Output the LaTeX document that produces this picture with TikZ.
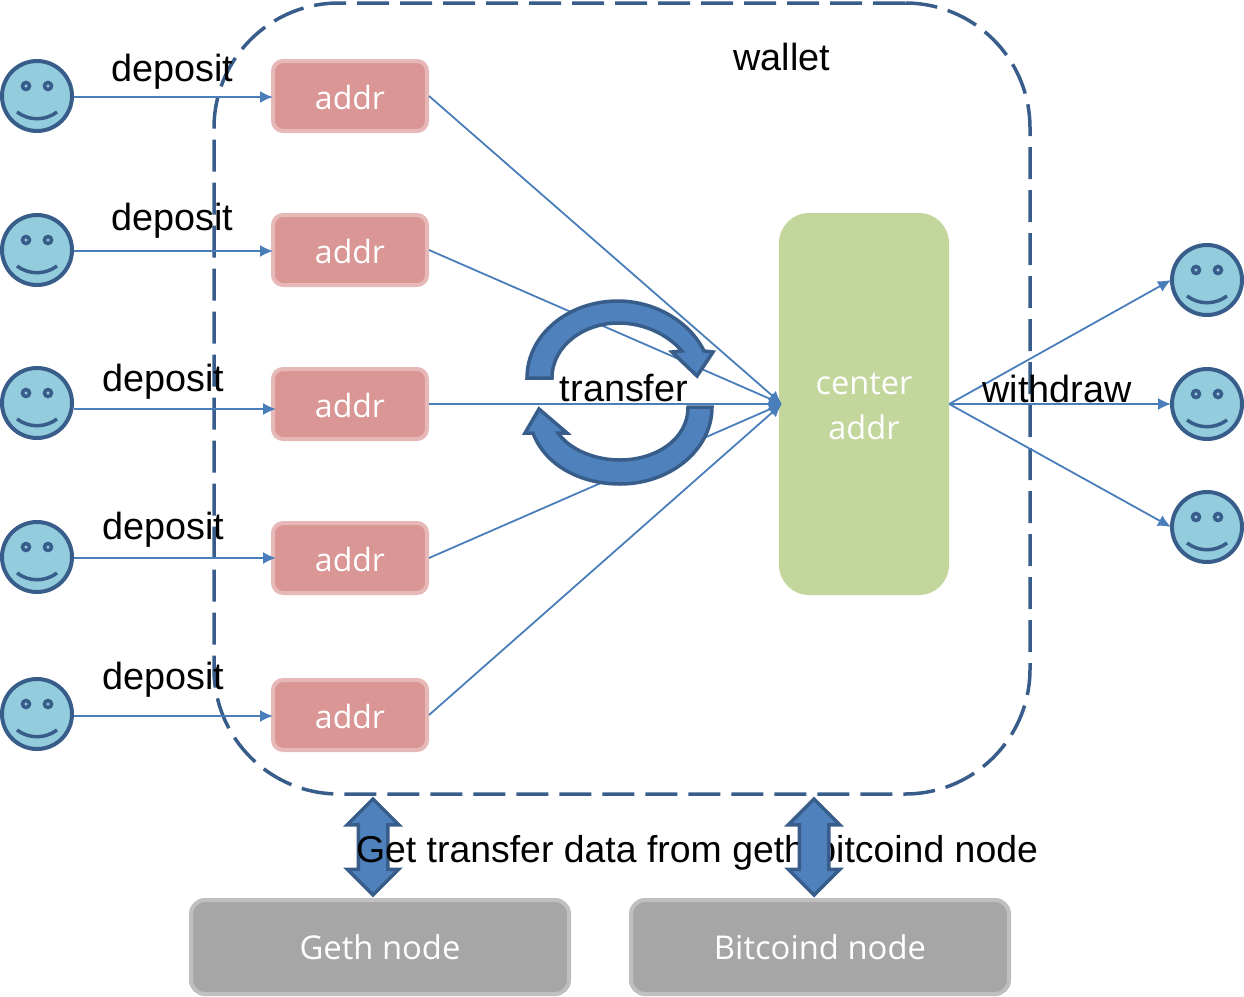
\documentclass[tikz,border=0pt]{standalone}
\usepackage{fontspec}
\setmainfont{Liberation Sans}
\newfontfamily\boxfont{Open Sans}
\usetikzlibrary{positioning,shapes,arrows.meta}

\definecolor{edgeblue}{HTML}{385D8A}
\definecolor{lineblue}{HTML}{4A7EBB}
\definecolor{arrowblue}{HTML}{4F81BD}
\definecolor{facefill}{HTML}{93CDDD}
\definecolor{addrfill}{HTML}{D99694}
\definecolor{addredge}{HTML}{E6B9B8}
\definecolor{centerfill}{HTML}{C3D69B}
\definecolor{nodefill}{HTML}{A6A6A6}
\definecolor{nodeedge}{HTML}{BFBFBF}

\tikzset{
	face/.style={circle,draw=edgeblue,fill=facefill,line width=4pt,minimum size=70pt,inner sep=0pt},
	faceline/.style={draw=edgeblue,line width=3.5pt},
	addr/.style={rectangle,rounded corners=10pt,draw=addredge,fill=addrfill,line width=4pt,minimum width=154pt,minimum height=70pt,text=white,text height=26.5pt,text depth=0pt,font=\boxfont\fontsize{32}{40}\selectfont},
	geth/.style={rectangle,rounded corners=14pt,draw=nodeedge,fill=nodefill,line width=4pt,minimum width=378pt,minimum height=94pt,text=white,font=\boxfont\fontsize{32.8}{40}\selectfont},
	label/.style={inner sep=0pt,font=\fontsize{37.8}{40}\selectfont},
	link/.style={draw=lineblue,line width=1.8pt,->},
	bigarrow/.style={draw=edgeblue,fill=arrowblue,line width=3.5pt},
	updown/.style={bigarrow,double arrow,rotate=90,minimum height=96pt,minimum width=50pt,double arrow head extend=11pt,inner xsep=0pt,inner ysep=13pt},
}

\newcommand{\drawface}[1]{
	\begin{scope}[shift={(#1)}]
		\draw[faceline] (-11,-10) circle (3.5);
		\draw[faceline] (11,-10) circle (3.5);
		\draw[faceline] (-20,16) .. controls (-8,25) and (8,25) .. (20,16);
	\end{scope}
}

\begin{document}
\begin{tikzpicture}[x=1pt,y=-1pt,>={Latex[length=13pt,width=12pt]}]
	\useasboundingbox (0,0) rectangle (1244,996);

	%the depositors and their addresses
	\foreach \i/\yface/\yaddr in {1/96/96,2/250/250,3/403/404,4/557/558,5/714/715}{
		\node[face] (smile\i) at (37,\yface) {};
		\node[addr] (addr\i) at (350,\yaddr) {addr};
		\drawface{smile\i}
	}

	%the center address
	\node[rectangle,rounded corners=30pt,fill=centerfill,minimum width=170pt,minimum height=382pt] (center) at (864,404) {};
	\node[text=white,align=center,font=\boxfont\fontsize{32.5}{45}\selectfont] (centername) at (864,406) {center\\addr};

	%the receivers
	\foreach \i/\yface in {1/280,2/404,3/527}{
		\node[face] (out\i) at (1207,\yface) {};
		\drawface{out\i}
	}

	%the wallet
	\node[rectangle,rounded corners=125pt,draw=edgeblue,line width=3.5pt,dash pattern=on 32pt off 11pt,minimum width=816pt,minimum height=791pt] (wallet) at (622,398.5) {};

	%the deposits
	\draw[link] ([yshift=-1pt]smile1.east) -- ([xshift=2pt,yshift=-1pt]addr1.west);
	\draw[link] ([yshift=-1pt]smile2.east) -- ([xshift=2pt,yshift=-1pt]addr2.west);
	\draw[link] ([yshift=-6pt]smile3.east) -- ([xshift=5pt,yshift=-5pt]addr3.west);
	\draw[link] ([yshift=-1pt]smile4.east) -- ([xshift=5pt]addr4.west);
	\draw[link] ([yshift=-2pt]smile5.east) -- ([xshift=2pt,yshift=-1pt]addr5.west);

	%the transfers to the center
	\foreach \i in {1,...,5}{
		\draw[link] (addr\i.east) -- ([xshift=3pt]center.west);
	}

	%the withdrawals
	\foreach \i in {1,2,3}{
		\draw[link] (center.east) -- ([xshift=1pt]out\i.west);
	}

	% the two round arrows
	\draw[bigarrow] (527,378) .. controls (527,335) and (568,301) .. (618,301) .. controls (655,301) and (690,322) .. (704,351) -- (713,352) -- (697,376) -- (672,352) -- (682,351) .. controls (668,335) and (645,323) .. (618,323) .. controls (585,323) and (552,345) .. (552,378) -- cycle;
	\draw[bigarrow] (712,407) .. controls (712,450) and (670,484) .. (620,484) .. controls (580,484) and (545,465) .. (533,433) -- (525,433) -- (539,409) -- (567,433) -- (558,433) .. controls (570,450) and (595,460) .. (620,460) .. controls (655,460) and (688,440) .. (688,407) -- cycle;

	%the labels
	\node[label] (dep1) at (172,72) {deposit};
	\node[label] (dep2) at (172,221) {deposit};
	\node[label] (dep3) at (163,382) {deposit};
	\node[label] (dep4) at (163,530) {deposit};
	\node[label] (dep5) at (163,680) {deposit};
	\node[label] (walletname) at (782,57) {wallet};
	\node[label] (transfer) at (624,388) {transfer};
	\node[label] (withdraw) at (1057,389) {withdraw};

	%the outside nodes
	\node[geth] (gethnode) at (380,947) {Geth node};
	\node[geth] (btcnode) at (820,947) {Bitcoind node};
	\node[updown] (gethlink) at (373,847) {};
	\node[label,font=\fontsize{37.4}{40}\selectfont] (getdata) at (697,853) {Get transfer data from geth bitcoind node};
	\node[updown] (btclink) at (814,847) {};
\end{tikzpicture}
\end{document}
